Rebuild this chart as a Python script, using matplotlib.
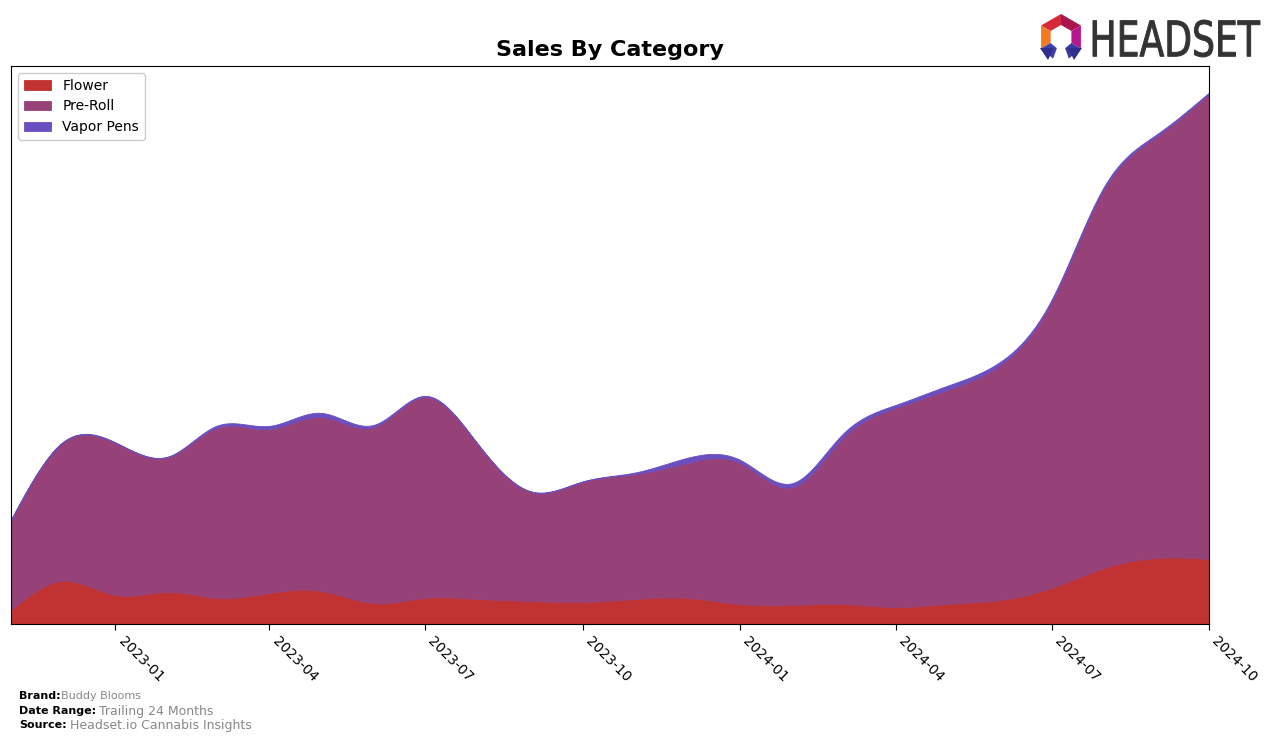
import numpy as np
import pandas as pd
import matplotlib
matplotlib.use("Agg")
import matplotlib.pyplot as plt
from matplotlib.patches import Polygon, PathPatch
from matplotlib.textpath import TextPath
from matplotlib.font_manager import FontProperties
from matplotlib.transforms import Affine2D

# ---------------- data ----------------
months = pd.date_range("2022-11-01", "2024-10-01", freq="MS")
flower = [14, 43, 29, 32, 26, 31, 33, 21, 26, 25, 23, 22, 25, 26, 20, 19, 20, 17, 20, 24, 36, 56, 66, 65]
pre_roll = [90, 138, 152, 135, 170, 164, 174, 176, 201, 154, 109, 120, 125, 135, 141, 118, 166, 199, 214, 235, 286, 380, 422, 465]
vapor_pens = [0.5, 0.5, 0.5, 0.5, 2, 3, 4, 2, 1, 0.5, 0.5, 0.5, 1.5, 5, 3, 4, 4, 3, 4, 3, 2, 2, 2, 1]
categories = ["Flower", "Pre-Roll", "Vapor Pens"]
colors = ["#C13232", "#964178", "#6B4FC0"]
tick_dates = pd.date_range("2023-01-01", "2024-10-01", freq="3MS")


def natural_spline(x, y, xs):
    x = np.asarray(x, float)
    y = np.asarray(y, float)
    n = len(x)
    h = np.diff(x)
    A = np.zeros((n, n))
    b = np.zeros(n)
    A[0, 0] = 1
    A[-1, -1] = 1
    for i in range(1, n - 1):
        A[i, i - 1] = h[i - 1]
        A[i, i] = 2 * (h[i - 1] + h[i])
        A[i, i + 1] = h[i]
        b[i] = 3 * ((y[i + 1] - y[i]) / h[i] - (y[i] - y[i - 1]) / h[i - 1])
    c = np.linalg.solve(A, b)
    out = np.empty_like(xs, dtype=float)
    idx = np.clip(np.searchsorted(x, xs, side="right") - 1, 0, n - 2)
    for k, xv in enumerate(xs):
        i = idx[k]
        bi = (y[i + 1] - y[i]) / h[i] - h[i] * (2 * c[i] + c[i + 1]) / 3
        di = (c[i + 1] - c[i]) / (3 * h[i])
        dx = xv - x[i]
        out[k] = y[i] + bi * dx + c[i] * dx ** 2 + di * dx ** 3
    return out


# ---------------- figure ----------------
W, H = 1276, 742
fig = plt.figure(figsize=(W / 100, H / 100), dpi=100)
ax = fig.add_axes([11 / W, 1 - 624 / H, (1209 - 11) / W, (624 - 66) / H])

xnum = matplotlib.dates.date2num(months)
xs = np.linspace(xnum[0], xnum[-1], 800)
series = [flower, pre_roll, vapor_pens]
smooth = [np.clip(natural_spline(xnum, s, xs), 0, None) for s in series]
ax.stackplot(xs, *smooth, colors=colors, labels=categories, linewidth=0.6,
             edgecolor="face", alpha=1)

total_max = max(np.array(flower) + np.array(pre_roll) + np.array(vapor_pens))
ax.set_xlim(xnum[0], xnum[-1])
ax.set_ylim(0, total_max * 1.05)
ax.set_yticks([])
ax.set_xticks(matplotlib.dates.date2num(tick_dates))
ax.set_xticklabels([d.strftime("%Y-%m") for d in tick_dates], rotation=-45,
                   ha="left", fontsize=10)
ax.tick_params(axis="x", length=4)
ax.set_title("Sales By Category", fontsize=16, fontweight="bold", pad=7)
leg = ax.legend(loc="upper left", fontsize=10, framealpha=1)

# ---------------- footer ----------------
def fx(x):
    return x / W


def fy(y):
    return 1 - y / H


fig.text(fx(19), fy(696), "Brand:", fontsize=8, fontweight="bold", va="center")
fig.text(fx(61), fy(696), "Buddy Blooms", fontsize=8, color="#888888", va="center")
fig.text(fx(19), fy(711), "Date Range:", fontsize=8, fontweight="bold", va="center")
fig.text(fx(99), fy(711), "Trailing 24 Months", fontsize=9, color="#888888", va="center")
fig.text(fx(19), fy(725), "Source:", fontsize=8, fontweight="bold", va="center")
fig.text(fx(70), fy(725), "Headset.io Cannabis Insights", fontsize=9, color="#888888", va="center")

# ---------------- logo ----------------
cx, cy = 1061, 37
Ro, Ri = 23, 12


def pt(r, ang):
    a = np.deg2rad(ang)
    return (fx(cx + r * np.cos(a)), fy(cy - r * np.sin(a)))


segs = [(150, 90, "#D42A3A"), (90, 30, "#A8164C"), (30, -30, "#B8188E"),
        (210, 150, "#F27A22"), (250, 210, "#3E3FAE"), (-30, -70, "#3B3A9E")]
for a0, a1, col in segs:
    poly = [pt(Ro, a0), pt(Ro, a1), pt(Ri, a1), pt(Ri, a0)]
    fig.patches.append(Polygon(poly, closed=True, transform=fig.transFigure,
                               facecolor=col, edgecolor="none", figure=fig))
for base0, base1, tip, col in [((1040, 48), (1054, 48), (1048, 60), "#2E2F8C"),
                               ((1068, 48), (1082, 48), (1074, 60), "#2E2F8C")]:
    poly = [(fx(base0[0]), fy(base0[1])), (fx(base1[0]), fy(base1[1])), (fx(tip[0]), fy(tip[1]))]
    fig.patches.append(Polygon(poly, closed=True, transform=fig.transFigure,
                               facecolor=col, edgecolor="none", figure=fig))

tp = TextPath((0, 0), "HEADSET", size=50, prop=FontProperties(family="DejaVu Sans"))
ext = tp.get_extents()
x0, x1, y0, y1 = 1093, 1260, 20, 57
sx = (x1 - x0) / ext.width
sy = (y1 - y0) / ext.height
tr = Affine2D().translate(-ext.x0, -ext.y0).scale(sx / W, sy / H).translate(fx(x0), fy(y1))
path = tr.transform_path(tp)
fig.patches.append(PathPatch(path, transform=fig.transFigure, facecolor="#333333",
                             edgecolor="#333333", linewidth=0.7, figure=fig))

fig.savefig("out.png", dpi=100)
